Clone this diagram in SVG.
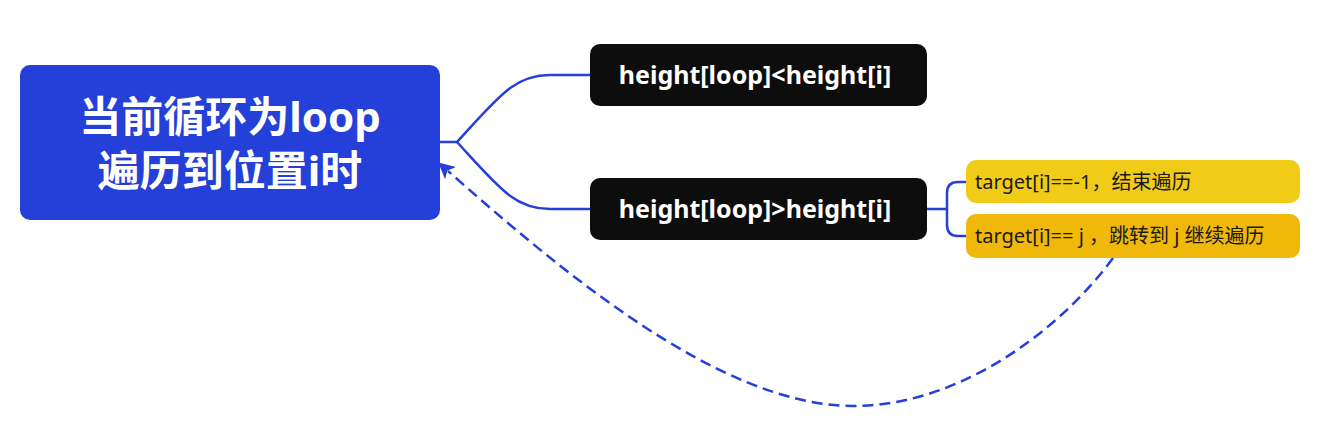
<svg xmlns="http://www.w3.org/2000/svg" width="1319" height="437" viewBox="0 0 1319 437">
<defs>
<style>
.conn{fill:none;stroke:#2540D9;stroke-width:2.5;stroke-linecap:round}
.dash{fill:none;stroke:#2540D9;stroke-width:2.5;stroke-dasharray:11 6}
.root-t{font-family:"Noto Sans","Noto Sans CJK SC",sans-serif;font-weight:bold;font-size:42px;fill:#fff;text-anchor:middle}
.dark-t{font-family:"Noto Sans","Noto Sans CJK SC",sans-serif;font-weight:bold;font-size:25px;fill:#fff;text-anchor:middle}
.yel-t{font-family:"Noto Sans","Noto Sans CJK SC",sans-serif;font-size:20px;fill:#1a1a1a}
</style>
<marker id="arr" viewBox="0 0 10 10" refX="2" refY="5" markerWidth="6.5" markerHeight="6.5" orient="auto-start-reverse" markerUnits="strokeWidth">
<path d="M0,0 L10,5 L0,10 L2.5,5 Z" fill="#2540D9"/>
</marker>
</defs>
<rect width="1319" height="437" fill="#fff"/>
<g id="connectors">
<path class="conn" d="M440,142 H457 C500,95 515,75 550,75 H592"/>
<path class="conn" d="M457,142 C500,189 515,209 550,209 H592"/>
<path class="conn" d="M927,209 H946"/>
<path class="conn" d="M966,182 H958 Q947,182 947,193 V225 Q947,236 958,236 H966"/>
<path class="dash" marker-end="url(#arr)" d="M1113,258 C1060,330 960,406 853,406 C720,406 560,270 448,171"/>
</g>
<g id="root">
<rect x="20" y="65" width="420" height="155" rx="10" fill="#2540D9"/>
<text class="root-t" x="230" y="132">当前循环为loop</text>
<text class="root-t" x="230" y="186">遍历到位置i时</text>
</g>
<g id="node-lt">
<rect x="590" y="44" width="337" height="62" rx="10" fill="#0d0d0d"/>
<text class="dark-t" x="755" y="84">height[loop]&lt;height[i]</text>
</g>
<g id="node-gt">
<rect x="590" y="178" width="337" height="62" rx="10" fill="#0d0d0d"/>
<text class="dark-t" x="755" y="218">height[loop]&gt;height[i]</text>
</g>
<g id="node-end">
<rect x="966" y="160" width="334" height="43" rx="10" fill="#F0CB17"/>
<text class="yel-t" x="975" y="189">target[i]==-1，结束遍历</text>
</g>
<g id="node-jump">
<rect x="966" y="214" width="334" height="44" rx="10" fill="#F0B808"/>
<text class="yel-t" x="975" y="243">target[i]== j ，跳转到 j 继续遍历</text>
</g>
</svg>
